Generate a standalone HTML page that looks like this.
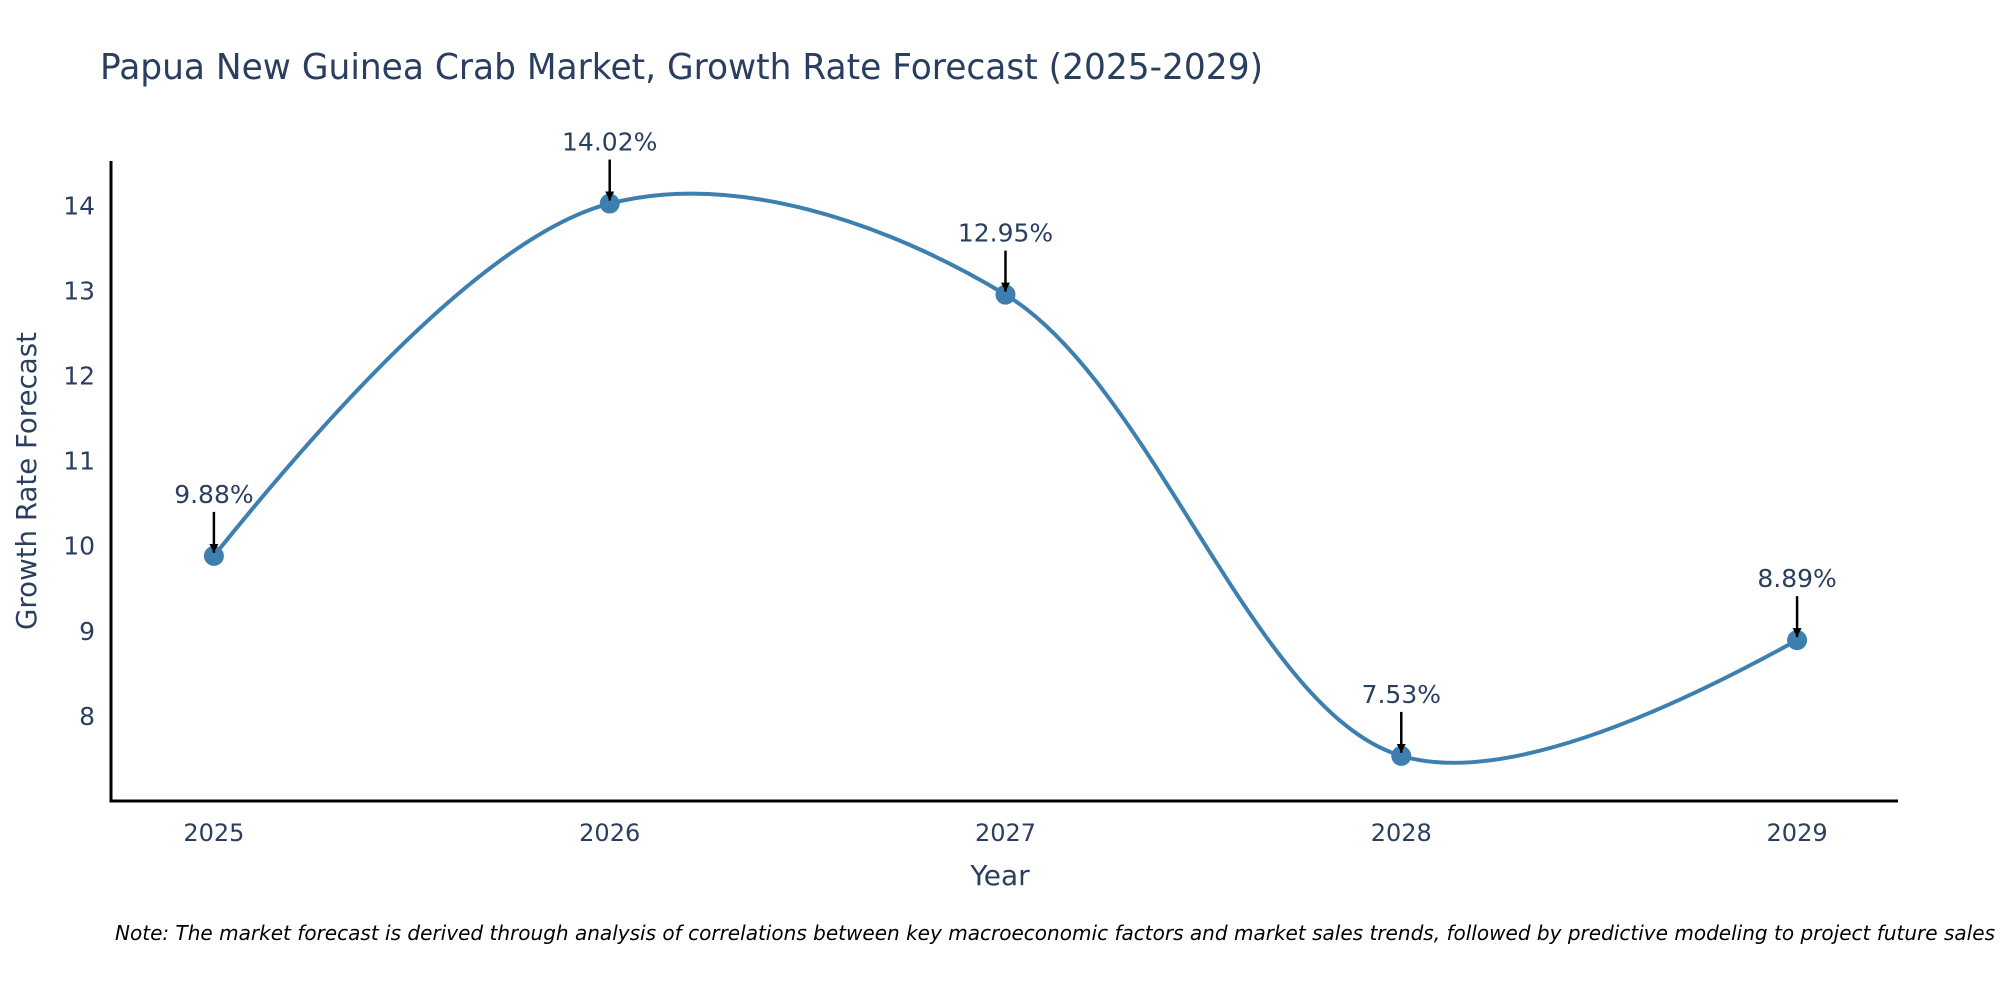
<!DOCTYPE html>
<html><head><meta charset="utf-8"><style>
html,body{margin:0;padding:0;background:#fff;}
svg{display:block;font-family:"DejaVu Sans","Liberation Sans",sans-serif;}
</style></head><body>
<svg id="chart" width="2000" height="1000" viewBox="0 0 2000 1000" xmlns="http://www.w3.org/2000/svg">
<defs><marker id="ah" viewBox="0 0 10 10" refX="10" refY="5" markerWidth="3.6" markerHeight="3.6" markerUnits="strokeWidth" orient="auto"><path d="M0,0 L10,5 L0,10 z" fill="#000"/></marker></defs>
<text x="100" y="79" font-size="36" fill="#2a3f5f" textLength="1163" lengthAdjust="spacingAndGlyphs">Papua New Guinea Crab Market, Growth Rate Forecast (2025-2029)</text>
<g id="grid"></g>
<g id="series"></g>
<g id="annots"></g>
<text x="1000" y="885" font-size="28" fill="#2a3f5f" text-anchor="middle">Year</text>
<text transform="translate(36,481) rotate(-90)" font-size="28" fill="#2a3f5f" text-anchor="middle" textLength="298" lengthAdjust="spacingAndGlyphs">Growth Rate Forecast</text>
<text x="115" y="940" font-size="20" font-style="italic" fill="#000" textLength="1880" lengthAdjust="spacingAndGlyphs">Note: The market forecast is derived through analysis of correlations between key macroeconomic factors and market sales trends, followed by predictive modeling to project future sales</text>
</svg>
<script>
const years = [2025, 2026, 2027, 2028, 2029];
const growth = [9.88, 14.02, 12.95, 7.53, 8.89];
const labels = ["9.88%", "14.02%", "12.95%", "7.53%", "8.89%"];
const yTicks = [8, 9, 10, 11, 12, 13, 14];

const L=111, R=1898, T=161, B=801;
const xMin=2024.74, xMax=2029.255, yMin=7.0, yMax=14.52;
const xs = v => L + (v - xMin) / (xMax - xMin) * (R - L);
const ys = v => B - (v - yMin) / (yMax - yMin) * (B - T);
const NS = "http://www.w3.org/2000/svg";
function mk(tag, attrs, parent){const e=document.createElementNS(NS,tag);for(const k in attrs)e.setAttribute(k,attrs[k]);parent.appendChild(e);return e;}
const grid=document.getElementById('grid'), ser=document.getElementById('series'), ann=document.getElementById('annots');

const ya=mk('line',{x1:L,y1:T,x2:L,y2:B+1.5,stroke:'#000','stroke-width':3},grid);


const xa=mk('line',{x1:L-1.5,y1:B,x2:R,y2:B,stroke:'#000','stroke-width':3},grid);



yTicks.forEach(t=>{
  const e=mk('text',{x:L-16,y:ys(t)+9,'font-size':25,fill:'#2a3f5f','text-anchor':'end'},grid);
  e.textContent=t;
  
  
});
years.forEach(t=>{
  const e=mk('text',{x:xs(t),y:B+40,'font-size':24,fill:'#2a3f5f','text-anchor':'middle'},grid);
  e.textContent=t;
  
  
});

// plotly-style spline
const pts = years.map((y,i)=>[xs(y), ys(growth[i])]);
function tangent(p,c,n,s){
  const d1x=p[0]-c[0],d1y=p[1]-c[1],d2x=n[0]-c[0],d2y=n[1]-c[1];
  const d1a=Math.pow(d1x*d1x+d1y*d1y,0.25),d2a=Math.pow(d2x*d2x+d2y*d2y,0.25);
  const nx=(d2a*d2a*d1x-d1a*d1a*d2x)*s, ny=(d2a*d2a*d1y-d1a*d1a*d2y)*s;
  const den1=3*d2a*(d1a+d2a), den2=3*d1a*(d1a+d2a);
  return [[c[0]+nx/den1,c[1]+ny/den1],[c[0]-nx/den2,c[1]-ny/den2]];
}
const tg=[];
for(let i=1;i<pts.length-1;i++) tg.push(tangent(pts[i-1],pts[i],pts[i+1],1));
const P=a=>a[0].toFixed(2)+','+a[1].toFixed(2);
let d='M'+P(pts[0])+'Q'+P(tg[0][0])+' '+P(pts[1]);
for(let i=2;i<pts.length-1;i++) d+='C'+P(tg[i-2][1])+' '+P(tg[i-1][0])+' '+P(pts[i]);
d+='Q'+P(tg[pts.length-3][1])+' '+P(pts[pts.length-1]);
const line=mk('path',{d:d,fill:'none',stroke:'#3d80b0','stroke-width':4},ser);



pts.forEach((p,i)=>{
  const c=mk('circle',{cx:p[0],cy:p[1],r:10,fill:'#3d80b0'},ser);
  
  
  const a=mk('line',{x1:p[0],y1:p[1]-44,x2:p[0],y2:p[1]-3,stroke:'#000','stroke-width':2.5,'marker-end':'url(#ah)'},ann);
  
  
  const t=mk('text',{x:p[0],y:p[1]-53,'font-size':25,fill:'#2a3f5f','text-anchor':'middle'},ann);
  t.textContent=labels[i];
  
  
});
</script>
</body></html>
